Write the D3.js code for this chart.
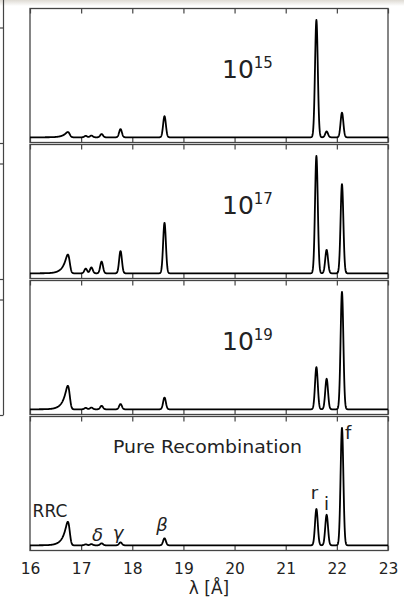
<!DOCTYPE html>
<html>
<head>
<meta charset="utf-8">
<script src="https://cdn.jsdelivr.net/npm/d3@7"></script>
<style>
  body { margin: 0; background: #fff; }
  svg { display: block; font-family: "DejaVu Sans", sans-serif; }
</style>
</head>
<body>
<div id="spectra"></div>
<script>
// O VII line list (wavelength in Angstrom)
var lineNames = ["RRC", "zeta", "epsilon", "delta", "gamma", "beta", "r", "i", "f"];
var lineWaves = [16.77, 17.09, 17.20, 17.40, 17.77, 18.63, 21.60, 21.80, 22.10];

// relative peak heights
var heights15 = [0.045, 0.012, 0.015, 0.028, 0.07, 0.18, 1.00, 0.05, 0.21];
var heights17 = [0.16, 0.04, 0.05, 0.10, 0.19, 0.43, 1.00, 0.20, 0.76];
var heights19 = [0.20, 0.012, 0.015, 0.03, 0.045, 0.10, 0.36, 0.26, 1.00];
var heightsRec = [0.20, 0.008, 0.01, 0.017, 0.025, 0.06, 0.31, 0.26, 1.00];

var panelHeights = [heights15, heights17, heights19, heightsRec];
var panelExponents = ["15", "17", "19", null];

var xTicks = [16, 17, 18, 19, 20, 21, 22, 23];

var svgWidth = 404;
var svgHeight = 600;
var margin = { top: 8, left: 30, right: 15 };
var panelH = 136;
var width = svgWidth - margin.left - margin.right;

var sigma = 0.027;    // instrumental width
var rrcTau = 0.08;    // RRC tail scale

var svg = d3.select("#spectra")
  .append("svg")
  .attr("width", svgWidth)
  .attr("height", svgHeight);

// faint grey strip at the very top of the scan
var grad = svg.append("defs").append("linearGradient")
  .attr("id", "topfade").attr("x1", 0).attr("y1", 0).attr("x2", 0).attr("y2", 1);
grad.append("stop").attr("offset", "0%").attr("stop-color", "#dedad3");
grad.append("stop").attr("offset", "100%").attr("stop-color", "#ffffff");
svg.append("rect")
  .attr("x", 0).attr("y", 0).attr("width", svgWidth).attr("height", 6)
  .attr("fill", "url(#topfade)");

var x = d3.scaleLinear()
  .domain([16, 23])
  .range([margin.left, margin.left + width - 1]);

var y = d3.scaleLinear()
  .domain([0, 1])
  .range([129.3, 12]);

var grid = d3.range(16, 23.0001, 0.004);

// recombination edge: exponential tail blurred by the instrument
function rrcRaw(w) {
  var s = 0;
  for (var t = 0; t < 0.7; t += 0.004) {
    s += Math.exp(-t / rrcTau) * Math.exp(-Math.pow(w - (lineWaves[0] - t), 2) / (2 * sigma * sigma));
  }
  return s;
}
var rrcVals = grid.map(rrcRaw);
var rrcMax = d3.max(rrcVals);

function spectrum(h) {
  return grid.map(function(w, k) {
    var v = h[0] * rrcVals[k] / rrcMax;
    for (var j = 1; j < lineWaves.length; j++) {
      v += h[j] * Math.exp(-Math.pow(w - lineWaves[j], 2) / (2 * sigma * sigma));
    }
    return { w: w, v: v };
  });
}

var line = d3.line()
  .x(function(d) { return x(d.w); })
  .y(function(d) { return y(d.v); });

// edge of the neighbouring figure, cut off at the left
var leftEdge = svg.append("g")
  .attr("stroke", "#444")
  .attr("stroke-width", 1.2);
leftEdge.append("line")
  .attr("x1", 3.5).attr("x2", 3.5)
  .attr("y1", 0).attr("y2", margin.top + 3 * panelH - 1);
[0, 1, 2].forEach(function(i) {
  var top = margin.top + i * panelH;
  leftEdge.append("line")
    .attr("x1", 0).attr("x2", 3.5)
    .attr("y1", top + 20).attr("y2", top + 20);
  leftEdge.append("line")
    .attr("x1", 0).attr("x2", 3.5)
    .attr("y1", top + panelH - 0.5).attr("y2", top + panelH - 0.5);
});

panelHeights.forEach(function(h, i) {
  var top = margin.top + i * panelH;
  var g = svg.append("g")
    .attr("transform", "translate(0," + top + ")");

  g.append("rect")
    .attr("x", x(16)).attr("y", 0.5)
    .attr("width", x(23) - x(16)).attr("height", panelH - 2)
    .attr("fill", "none")
    .attr("stroke", "#444")
    .attr("stroke-width", 1.3);

  var bottomAxis = d3.axisBottom(x)
    .tickValues(xTicks)
    .tickSizeInner(-5)
    .tickSizeOuter(0)
    .tickPadding(12)
    .tickFormat(i === 3 ? d3.format("d") : "");

  var topAxis = d3.axisTop(x)
    .tickValues(xTicks)
    .tickSizeInner(-5)
    .tickSizeOuter(0)
    .tickFormat("");

  var ba = g.append("g")
    .attr("transform", "translate(0," + (panelH - 1.5) + ")")
    .call(bottomAxis);
  var ta = g.append("g")
    .attr("transform", "translate(0,0.5)")
    .call(topAxis);
  [ba, ta].forEach(function(a) {
    a.select(".domain").remove();
    a.selectAll(".tick line").attr("stroke", "#444").attr("stroke-width", 1.2);
    a.selectAll(".tick text")
      .attr("fill", "#222")
      .attr("font-size", 15.5)
      .attr("font-family", "DejaVu Sans");
  });

  g.append("path")
    .datum(spectrum(h))
    .attr("d", line)
    .attr("fill", "none")
    .attr("stroke", "#000")
    .attr("stroke-width", 1.8)
    .attr("stroke-linejoin", "round");

  if (panelExponents[i]) {
    var lab = g.append("text")
      .attr("x", 222)
      .attr("y", 70)
      .attr("font-size", 25)
      .attr("fill", "#222")
      .text("10");
    lab.append("tspan")
      .attr("dy", -10)
      .attr("font-size", 15)
      .text(panelExponents[i]);
  } else {
    g.append("text")
      .attr("x", 113)
      .attr("y", 37)
      .attr("font-size", 18)
      .attr("fill", "#222")
      .attr("textLength", 189)
      .attr("lengthAdjust", "spacingAndGlyphs")
      .text("Pure Recombination");

    // line identifications in the bottom panel
    var idText = ["RRC", "δ", "γ", "β", "r", "i", "f"];
    var idWave = [16.39, 17.32, 17.72, 18.58, 21.56, 21.80, 22.22];
    var idY = [101, 125, 123, 115, 83, 94, 23];
    var idItalic = [false, true, true, true, false, false, false];
    idText.forEach(function(t, k) {
      g.append("text")
        .attr("x", x(idWave[k]))
        .attr("y", idY[k])
        .attr("text-anchor", "middle")
        .attr("font-size", k === 0 ? 17 : 18)
        .attr("font-style", idItalic[k] ? "italic" : "normal")
        .attr("fill", "#222")
        .text(t);
    });
  }
});

svg.append("text")
  .attr("x", x(19.5))
  .attr("y", 594)
  .attr("text-anchor", "middle")
  .attr("font-size", 17)
  .attr("fill", "#222")
  .text("λ [Å]");
</script>
</body>
</html>
